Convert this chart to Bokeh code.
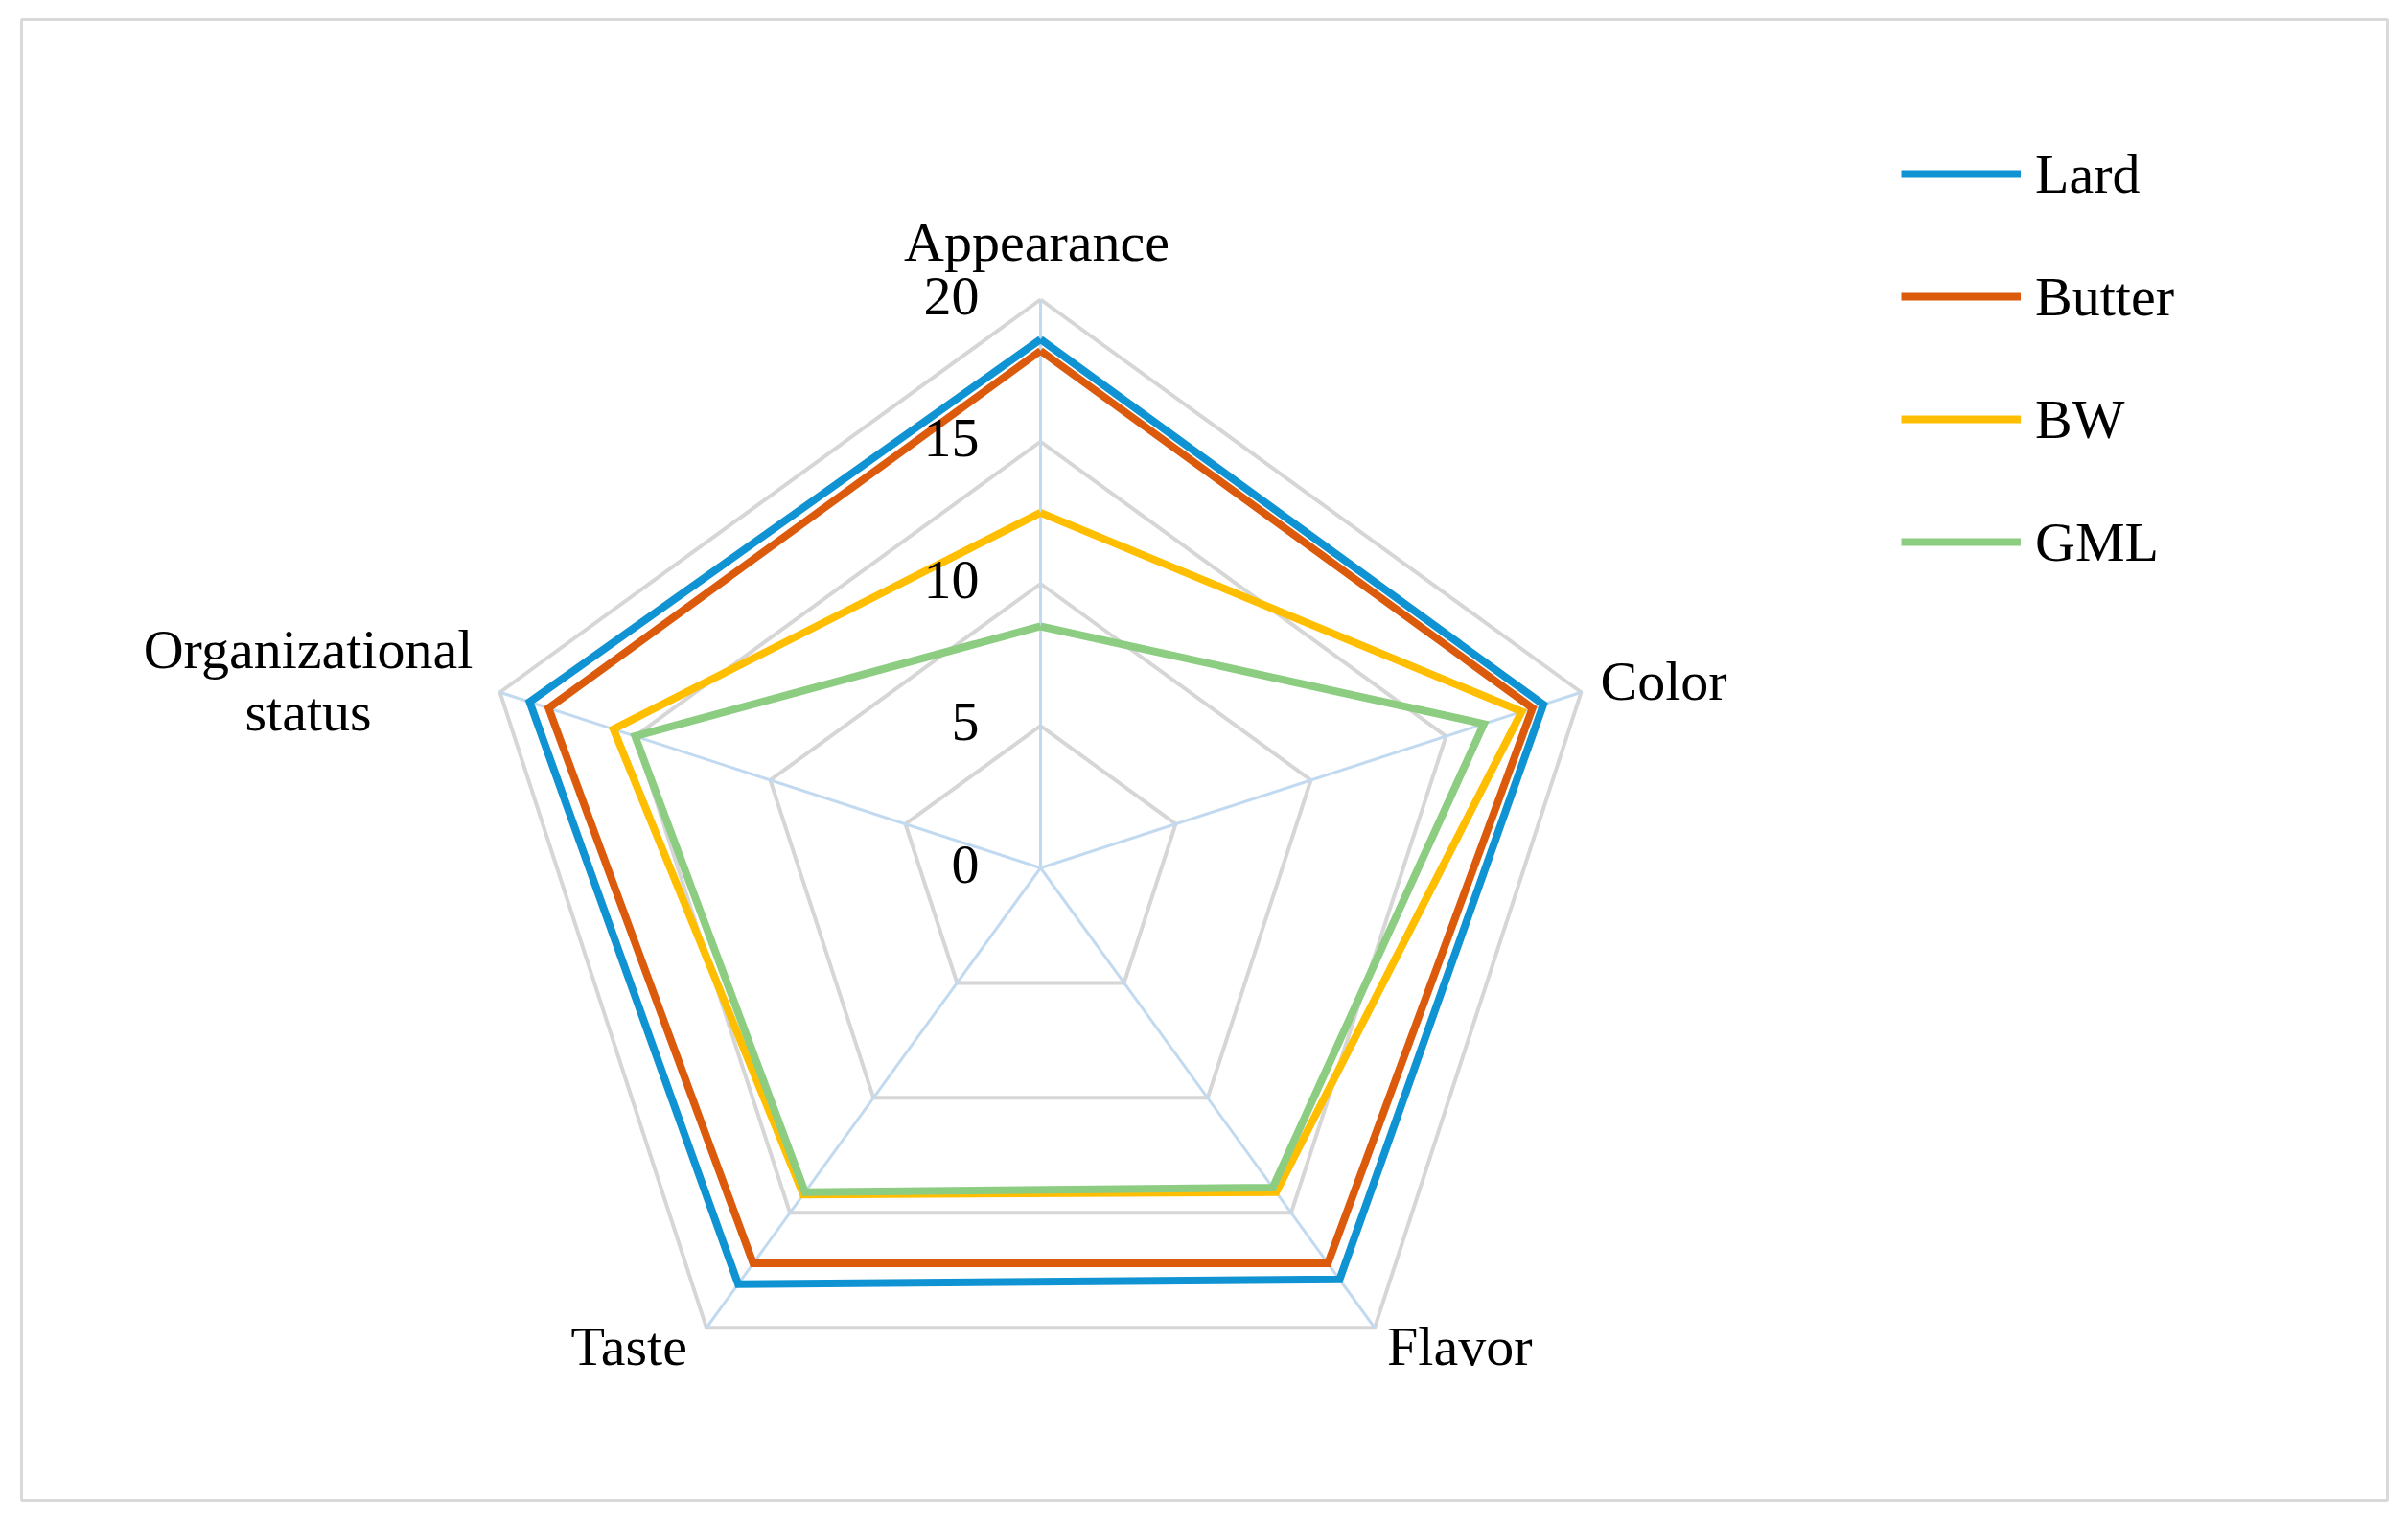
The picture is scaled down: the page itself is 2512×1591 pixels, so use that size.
import numpy as np
from bokeh.plotting import figure
from bokeh.models import Range1d, Legend, LegendItem
from bokeh.embed import file_html
from bokeh.resources import INLINE
from bokeh.core.properties import value

# ---- data ----
categories = ["Appearance", "Color", "Flavor", "Taste", "Organizational\nstatus"]
series_names = ["Lard", "Butter", "BW", "GML"]
lard = [18.6, 18.6, 17.9, 18.1, 18.9]
butter = [18.2, 18.2, 17.2, 17.2, 18.2]
bw = [12.5, 17.8, 14.1, 14.2, 15.8]
gml = [8.5, 16.4, 13.9, 14.1, 15.0]
tick_values = [0, 5, 10, 15, 20]
tick_labels = ["0", "5", "10", "15", "20"]

# ---- style / layout ----
series_values = [lard, butter, bw, gml]
colors = ["#0f93d2", "#dc5a0c", "#ffbf00", "#8ccd82"]
FONT = "Liberation Serif"
FS = "58px"
cx, cy = 1085.0, 905.0
R = 593.0
vmax = 20.0
n = len(categories)
angles = np.deg2rad(90 - 72 * np.arange(n))


def to_xy(vals):
    r = np.asarray(vals, dtype=float) / vmax * R
    return cx + r * np.cos(angles), cy - r * np.sin(angles)


p = figure(width=2504, height=1583, output_backend="svg", toolbar_location=None,
           x_range=Range1d(22, 2490), y_range=Range1d(1565, 20),
           x_axis_location=None, y_axis_location=None,
           min_border_left=22, min_border_right=14, min_border_top=20, min_border_bottom=18)
p.grid.visible = False
p.outline_line_color = "#d9d9d9"
p.outline_line_width = 3
p.background_fill_color = "white"
p.border_fill_color = "white"

# rings
for t in tick_values[1:]:
    x, y = to_xy([t] * n)
    p.line(list(x) + [x[0]], list(y) + [y[0]], line_color="#d6d6d6", line_width=4)

# spokes
ox, oy = to_xy([vmax] * n)
p.segment(x0=[cx] * n, y0=[cy] * n, x1=ox, y1=oy, line_color="#c2daf0", line_width=3)

# series
renderers = []
for name, vals, c in zip(series_names, series_values, colors):
    x, y = to_xy(vals)
    r = p.line(list(x) + [x[0]], list(y) + [y[0]], line_color=c, line_width=8, line_join="miter")
    renderers.append(r)

# tick labels
tick_r = np.asarray(tick_values, float) / vmax * R
p.text(x=[cx - 64] * len(tick_values), y=list(cy - tick_r - 4), text=tick_labels,
       text_font=value(FONT), text_font_size=FS, text_color="#000000",
       text_align="right", text_baseline="middle")

# category labels
place = [  # dx, dy, align, baseline
    (-4, -60, "center", "alphabetic"),
    (20, -12, "left", "alphabetic"),
    (13, 19, "left", "alphabetic"),
    (-20, 19, "right", "alphabetic"),
    (-200, -12, "center", "middle"),
]
for cat, (dx, dy, al, bl), vx, vy in zip(categories, place, ox, oy):
    p.text(x=[vx + dx], y=[vy + dy], text=[cat], text_font=value(FONT), text_font_size=FS,
           text_color="#000000", text_align=al, text_baseline=bl, text_line_height=1.0)

legend = Legend(items=[LegendItem(label=nm, renderers=[r]) for nm, r in zip(series_names, renderers)],
                location=(1961, 965), orientation="vertical",
                glyph_width=125, glyph_height=70, spacing=58, label_standoff=15,
                padding=0, margin=0, border_line_alpha=0, background_fill_alpha=0,
                label_text_font=FONT, label_text_font_size=FS, label_text_color="#000000")
p.add_layout(legend)

open("out.html", "w").write(file_html(p, INLINE))
